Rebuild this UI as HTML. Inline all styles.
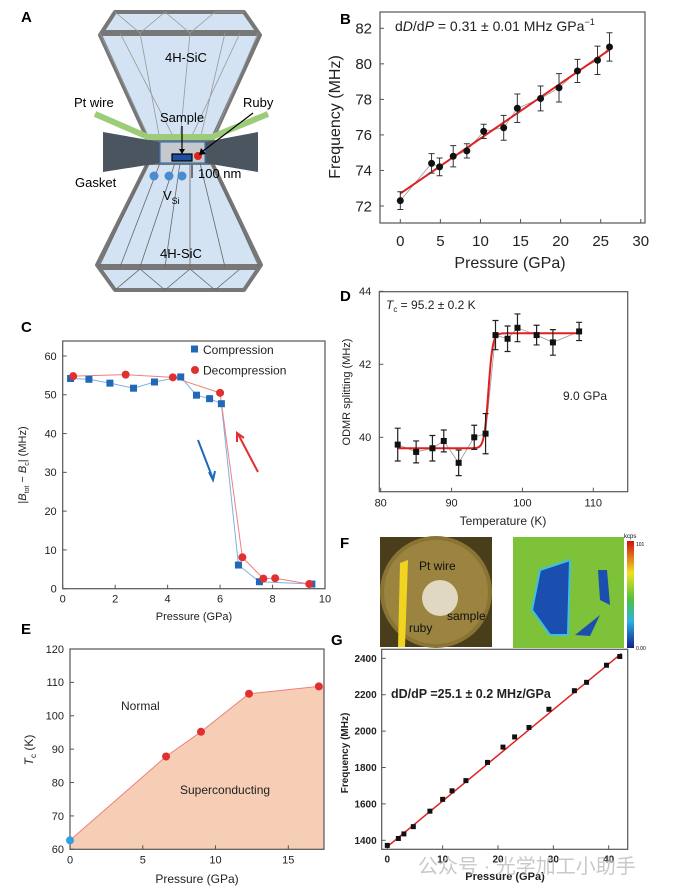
<!DOCTYPE html>
<html><head><meta charset="utf-8"><style>
html,body{margin:0;padding:0;background:#fff;}
svg{display:block;font-family:"Liberation Sans","Noto Sans CJK SC",sans-serif;}
</style></head><body>
<svg id="fig" width="674" height="893" viewBox="0 0 674 893" xmlns="http://www.w3.org/2000/svg">
<rect x="0" y="0" width="674" height="893" fill="#fff"/>
<!-- Panel A -->
<g>
<text x="21" y="22" font-size="15" font-weight="bold">A</text>
<polygon points="115,12 244,12 260,35 212,140 148,140 100,35" fill="#d3e3f3" stroke="#777" stroke-width="4" stroke-linejoin="round"/>
<line x1="102" y1="33" x2="258" y2="33" stroke="#777" stroke-width="6"/>
<g stroke="#999" stroke-width="0.8" fill="none">
<path d="M115,12 L140,33 L165,12 L190,33 L215,12 L244,12 M100,33 L150,140 M140,33 L160,140 M190,33 L180,140 M225,33 L200,140 M258,33 L212,140 M120,33 L175,140 M240,33 L190,140"/>
</g>
<polygon points="148,163 212,163 261,265 244,290 115,290 97,265" fill="#d3e3f3" stroke="#777" stroke-width="4" stroke-linejoin="round"/>
<line x1="99" y1="267" x2="259" y2="267" stroke="#777" stroke-width="6"/>
<g stroke="#666" stroke-width="0.8" fill="none">
<path d="M148,163 L99,267 M160,163 L120,267 M175,163 L140,267 M190,163 L190,267 M200,163 L225,267 M212,163 L259,267 M180,163 L165,267 M115,290 L140,269 L165,290 L190,269 L215,290 L240,269"/>
</g>
<polygon points="103,132 160,142 205,142 258,132 258,172 205,163 160,163 103,172" fill="#4a5560"/>
<rect x="160" y="142" width="45" height="21" fill="#c5c8cc" stroke="#3a78b8" stroke-width="1.2"/>
<polyline points="95,114 148,137 212,137 268,114" fill="none" stroke="#9ccc78" stroke-width="6"/>
<rect x="172" y="154" width="20" height="7" fill="#1f4fa0" stroke="#000" stroke-width="1.2"/>
<circle cx="198" cy="156" r="4" fill="#e02020"/>
<line x1="182" y1="126" x2="182" y2="152" stroke="#000" stroke-width="1.2"/>
<polygon points="179,149 185,149 182,154" fill="#000"/>
<line x1="253" y1="113" x2="203" y2="151" stroke="#000" stroke-width="1.2"/>
<polygon points="201,148 206,154 199,155" fill="#000"/>
<g fill="#4b8bd0">
<circle cx="154" cy="176" r="4.5"/><circle cx="169" cy="176" r="4.5"/><circle cx="182" cy="176" r="4.5"/>
</g>
<line x1="192" y1="165" x2="192" y2="178" stroke="#000" stroke-width="1"/>
<text x="165" y="62" font-size="13">4H-SiC</text>
<text x="160" y="258" font-size="13">4H-SiC</text>
<text x="74" y="107" font-size="13">Pt wire</text>
<text x="243" y="107" font-size="13">Ruby</text>
<text x="160" y="122" font-size="13">Sample</text>
<text x="75" y="187" font-size="13">Gasket</text>
<text x="198" y="178" font-size="13">100 nm</text>
<text x="163" y="200" font-size="13">V<tspan font-size="9" dy="4">Si</tspan></text>
</g>

<text x="340" y="24" font-size="15" font-weight="bold">B</text>
<text x="21" y="332" font-size="15" font-weight="bold">C</text>
<text x="340" y="301" font-size="15" font-weight="bold">D</text>
<text x="21" y="634" font-size="15" font-weight="bold">E</text>
<text x="340" y="548" font-size="15" font-weight="bold">F</text>
<text x="331" y="645" font-size="15" font-weight="bold">G</text>

<!-- Panel F images -->
<g>
<rect x="380" y="537" width="112" height="110" fill="#4a3d1c"/>
<circle cx="436" cy="592" r="56" fill="#8a7434"/>
<circle cx="436" cy="592" r="52" fill="#9a8440"/>
<polygon points="400,563 408,560 405,647 398,647" fill="#f1d420"/>
<circle cx="440" cy="598" r="18" fill="#e0d8c0"/>
<text x="419" y="570" font-size="12" fill="#111">Pt wire</text>
<text x="447" y="620" font-size="12" fill="#111">sample</text>
<text x="409" y="632" font-size="12" fill="#111">ruby</text>
</g>
<g>
<rect x="513" y="537" width="111" height="111" fill="#7ec23a"/>
<polygon points="540,570 570,560 568,635 550,635 532,610" fill="#1a4fb0" stroke="#40c0e0" stroke-width="2"/>
<polygon points="598,570 607,570 610,605 600,600" fill="#1a4fb0"/>
<polygon points="575,635 600,615 590,636" fill="#1a4fb0"/>
<rect x="627" y="541" width="7" height="107" fill="url(#cbar)"/>
<text x="624" y="538" font-size="6">kcps</text>
<text x="636" y="546" font-size="5">101</text>
<text x="636" y="650" font-size="5">0.00</text>
</g>
<defs><linearGradient id="cbar" x1="0" y1="0" x2="0" y2="1">
<stop offset="0" stop-color="#d01010"/><stop offset="0.3" stop-color="#f0e020"/><stop offset="0.55" stop-color="#50c040"/><stop offset="0.75" stop-color="#30b0e0"/><stop offset="1" stop-color="#102090"/></linearGradient></defs>

<g id="charts"></g>
<text x="418" y="873" font-size="20" fill="#bbb" fill-opacity="0.8">公众号 · 光学加工小助手</text>
</svg>
<script>
// ---- Panel B data ----
const bPressure=[0,3.9,4.9,6.6,8.3,10.4,12.9,14.6,17.5,19.8,22.1,24.6,26.1];
const bFreq=[72.3,74.4,74.2,74.8,75.1,76.2,76.4,77.5,78.05,78.65,79.6,80.2,80.95];
const bErr=[0.5,0.55,0.5,0.6,0.4,0.4,0.7,0.8,0.7,0.8,0.65,0.8,0.8];
const bXTicks=[0,5,10,15,20,25,30];
const bYTicks=[72,74,76,78,80,82];
const bFitIntercept=72.7, bFitSlope=0.31;
// ---- Panel C data ----
const cCompP=[0.3,1.0,1.8,2.7,3.5,4.5,5.1,5.6,6.05,6.7,7.5,9.5];
const cCompB=[54.2,54,53,51.7,53.3,54.6,49.9,49,47.7,6.1,1.8,1.2];
const cDecP=[0.4,2.4,4.2,6.0,6.85,7.65,8.1,9.4];
const cDecB=[54.8,55.2,54.5,50.5,8.1,2.6,2.7,1.2];
const cXTicks=[0,2,4,6,8,10];
const cYTicks=[0,10,20,30,40,50,60];
// ---- Panel D data ----
const dTemp=[82.4,85,87.3,88.9,91,93.2,94.8,96.2,97.9,99.3,102,104.3,108];
const dSplit=[39.8,39.6,39.7,39.9,39.3,40.0,40.1,42.8,42.7,43.0,42.8,42.6,42.9];
const dErr=[0.45,0.3,0.35,0.3,0.35,0.33,0.55,0.4,0.35,0.38,0.27,0.35,0.25];
const dXTicks=[80,90,100,110];
const dYTicks=[40,42,44];
const dLow=39.7, dHigh=42.85, dTc=95.2, dWidth=0.3;
// ---- Panel E data ----
const eP=[0,6.6,9.0,12.3,17.1];
const eTc=[62.7,87.8,95.2,106.6,108.8];
const eXTicks=[0,5,10,15];
const eYTicks=[60,70,80,90,100,110,120];
// ---- Panel G data ----
const gP=[0,2,3,4.7,7.7,10,11.7,14.2,18.1,20.9,23,25.6,29.2,33.8,36,39.6,42];
const gF=[1372,1410,1435,1475,1560,1625,1672,1728,1828,1912,1968,2020,2120,2222,2268,2362,2410];
const gXTicks=[0,10,20,30,40];
const gYTicks=[1400,1600,1800,2000,2200,2400];
const gFitIntercept=1365, gFitSlope=25.1;

const NS="http://www.w3.org/2000/svg";
const root=document.getElementById('charts');
function el(tag,attrs,parent,txt){const e=document.createElementNS(NS,tag);for(const k in attrs)e.setAttribute(k,attrs[k]);if(txt!==undefined)e.textContent=txt;(parent||root).appendChild(e);return e;}
function lin(d0,d1,r0,r1){return v=>r0+(v-d0)*(r1-r0)/(d1-d0);}
function group(name){const g=el('g',{});


return g;}
function axes(g,box,xs,ys,xt,yt,fs,opts){
 const fr=el('rect',{x:box[0],y:box[1],width:box[2]-box[0],height:box[3]-box[1],fill:opts.fill||'none',stroke:'#555','stroke-width':1.2},g);
 
 
 xt.forEach(v=>{const x=xs(v);el('line',{x1:x,x2:x,y1:box[3],y2:box[3]-(opts.tick||4),stroke:'#555'},g);
  const t=el('text',{x:x,y:box[3]+fs+(opts.xpad||3),'font-size':fs,'text-anchor':'middle','font-weight':opts.bold?'bold':'normal',fill:'#222'},g,v);
  
  });
 yt.forEach(v=>{const y=ys(v);el('line',{x1:box[0],x2:box[0]+(opts.tick||4),y1:y,y2:y,stroke:'#555'},g);
  const t=el('text',{x:box[0]-(opts.ypad||5),y:y+fs*0.35,'font-size':fs,'text-anchor':'end','font-weight':opts.bold?'bold':'normal',fill:'#222'},g,v);
  
  });
}
function title(g,x,y,txt,fs,rot,name,bold){const t=el('text',{x:x,y:y,'font-size':fs,'text-anchor':'middle','font-weight':bold?'bold':'normal',fill:'#222',transform:rot?`rotate(-90 ${x} ${y})`:''},g);t.innerHTML=txt;
 
 return t;}

// ===== Panel B =====
(function(){const g=group('panel-b-chart');const box=[380,12,645,223];
const xs=lin(0,25,400.3,600.7), ys=lin(72,82,206,28.3);
axes(g,box,xs,ys,bXTicks,bYTicks,15,{xpad:8,ypad:8});
title(g,340,117,'Frequency (MHz)',16,true,'y-axis-title');
title(g,510,268,'Pressure (GPa)',16,false,'x-axis-title');
const an=el('text',{x:395,y:31,'font-size':14,fill:'#222'},g);an.innerHTML='d<tspan font-style="italic">D</tspan>/d<tspan font-style="italic">P</tspan> = 0.31 ± 0.01 MHz GPa<tspan font-size="9" dy="-6">−1</tspan>';


el('polyline',{points:bPressure.map((p,i)=>xs(p)+','+ys(bFreq[i])).join(' '),fill:'none',stroke:'#999','stroke-width':0.8},g);
const fit=el('line',{x1:xs(0),y1:ys(bFitIntercept),x2:xs(26.1),y2:ys(bFitIntercept+bFitSlope*26.1),stroke:'#e02020','stroke-width':2},g);


bPressure.forEach((p,i)=>{const x=xs(p);
 const eb=el('path',{d:`M${x},${ys(bFreq[i]-bErr[i])}V${ys(bFreq[i]+bErr[i])}M${x-3},${ys(bFreq[i]-bErr[i])}h6M${x-3},${ys(bFreq[i]+bErr[i])}h6`,stroke:'#333','stroke-width':1,fill:'none'},g);
 
 
 const c=el('circle',{cx:x,cy:ys(bFreq[i]),r:3.5,fill:'#111'},g);
 
 });
})();

// ===== Panel C =====
(function(){const g=group('panel-c-chart');const box=[62.7,341,325,588.7];
const xs=lin(0,10,62.7,325), ys=lin(0,60,588.7,356);
axes(g,box,xs,ys,cXTicks,cYTicks,11,{xpad:3,ypad:6});
const yt=title(g,26,465,'',11,true,'y-axis-title');yt.innerHTML='|<tspan font-style="italic">B</tspan><tspan font-size="7" dy="3">tot</tspan><tspan dy="-3"> − </tspan><tspan font-style="italic">B</tspan><tspan font-size="7" dy="3">c</tspan><tspan dy="-3">| (MHz)</tspan>';
title(g,194,620,'Pressure (GPa)',11,false,'x-axis-title');
el('polyline',{points:cCompP.map((p,i)=>xs(p)+','+ys(cCompB[i])).join(' '),fill:'none',stroke:'#7fb0e0','stroke-width':1},g);
el('polyline',{points:cDecP.map((p,i)=>xs(p)+','+ys(cDecB[i])).join(' '),fill:'none',stroke:'#f08080','stroke-width':1},g);
cCompP.forEach((p,i)=>{const s=el('rect',{x:xs(p)-3.5,y:ys(cCompB[i])-3.5,width:7,height:7,fill:'#2068b8'},g);
 
 });
cDecP.forEach((p,i)=>{const c=el('circle',{cx:xs(p),cy:ys(cDecB[i]),r:4,fill:'#e03030'},g);
 
 });
const l1=el('g',{},g);
el('rect',{x:191,y:345.5,width:7,height:7,fill:'#2068b8'},l1);el('text',{x:203,y:354,'font-size':12,fill:'#222'},l1,'Compression');
const l2=el('g',{},g);
el('circle',{cx:195,cy:370,r:4,fill:'#e03030'},l2);el('text',{x:203,y:374.5,'font-size':12,fill:'#222'},l2,'Decompression');
const a1=el('path',{d:'M198,440 L213,479 M209,472 L213,480 L215,471',stroke:'#2068b8','stroke-width':2,fill:'none'},g);

const a2=el('path',{d:'M258,472 L238,434 M237,442 L237,433 L244,438',stroke:'#e03030','stroke-width':2,fill:'none'},g);

})();

// ===== Panel D =====
(function(){const g=group('panel-d-chart');const box=[379.3,291.7,627.7,491.7];
const xs=lin(80,110,380.7,593.3), ys=lin(40,42,437.3,364.3);
axes(g,box,xs,ys,dXTicks,dYTicks,11,{xpad:4,ypad:8});
title(g,350,392,'ODMR splitting (MHz)',11,true,'y-axis-title');
title(g,503,525,'Temperature (K)',12,false,'x-axis-title');
const an=el('text',{x:386,y:309,'font-size':12,fill:'#222'},g);an.innerHTML='<tspan font-style="italic">T</tspan><tspan font-size="8" dy="3">c</tspan><tspan dy="-3"> = 95.2 ± 0.2 K</tspan>';

const pl=el('text',{x:563,y:400,'font-size':12,fill:'#222'},g,'9.0 GPa');

el('polyline',{points:dTemp.map((t,i)=>xs(t)+','+ys(dSplit[i])).join(' '),fill:'none',stroke:'#999','stroke-width':0.8},g);
let pts=[];for(let t=82.4;t<=108.01;t+=0.1){const v=dLow+(dHigh-dLow)/(1+Math.exp(-(t-dTc)/dWidth));pts.push(xs(t)+','+ys(v));}
const fit=el('polyline',{points:pts.join(' '),fill:'none',stroke:'#e02020','stroke-width':2},g);

dTemp.forEach((t,i)=>{const x=xs(t);
 const eb=el('path',{d:`M${x},${ys(dSplit[i]-dErr[i])}V${ys(dSplit[i]+dErr[i])}M${x-3},${ys(dSplit[i]-dErr[i])}h6M${x-3},${ys(dSplit[i]+dErr[i])}h6`,stroke:'#222','stroke-width':1.2,fill:'none'},g);
 
 const s=el('rect',{x:x-3,y:ys(dSplit[i])-3,width:6,height:6,fill:'#111'},g);
 });
})();

// ===== Panel E =====
(function(){const g=group('panel-e-chart');const box=[70,649,324,849.3];
const xs=lin(0,15,70,288.3), ys=lin(60,120,849.3,649);
let poly=eP.map((p,i)=>xs(p)+','+ys(eTc[i]));poly.push(box[2]+','+ys(eTc[eTc.length-1]));poly.push(box[2]+','+box[3]);poly.push(xs(0)+','+box[3]);
const area=el('polygon',{points:poly.join(' '),fill:'#f6cdb5'},g);

el('polyline',{points:eP.map((p,i)=>xs(p)+','+ys(eTc[i])).join(' '),fill:'none',stroke:'#f08080','stroke-width':1},g);
axes(g,box,xs,ys,eXTicks,eYTicks,11,{xpad:3,ypad:6});
const yt=title(g,33,750,'',12,true,'y-axis-title');yt.innerHTML='<tspan font-style="italic">T</tspan><tspan font-size="8" dy="3">c</tspan><tspan dy="-3"> (K)</tspan>';
title(g,197,883,'Pressure (GPa)',12,false,'x-axis-title');
const n=el('text',{x:121,y:710,'font-size':12,fill:'#222'},g,'Normal');
const s=el('text',{x:180,y:794,'font-size':12,fill:'#222'},g,'Superconducting');
eP.forEach((p,i)=>{const c=el('circle',{cx:xs(p),cy:ys(eTc[i]),r:4,fill:i===0?'#30a0e0':'#e03030'},g);
 });
})();

// ===== Panel G =====
(function(){const g=group('panel-g-chart');const box=[381.7,649.3,627.7,849.3];
const xs=lin(0,40,387.3,608.7), ys=lin(1400,2400,840.3,658.3);
axes(g,box,xs,ys,gXTicks,gYTicks,10,{xpad:3,ypad:5,bold:true});
title(g,348,753,'Frequency (MHz)',10,true,'y-axis-title',true);
title(g,505,880,'Pressure (GPa)',11,false,'x-axis-title',true);
const an=el('text',{x:391,y:698,'font-size':12.5,'font-weight':'bold',fill:'#222'},g,'dD/dP =25.1 ± 0.2 MHz/GPa');

const fit=el('line',{x1:xs(0),y1:ys(gFitIntercept),x2:xs(42.3),y2:ys(gFitIntercept+gFitSlope*42.3),stroke:'#e02020','stroke-width':1.5},g);

gP.forEach((p,i)=>{const s=el('rect',{x:xs(p)-2.5,y:ys(gF[i])-2.5,width:5,height:5,fill:'#111'},g);
 });
})();
</script>
</body></html>
